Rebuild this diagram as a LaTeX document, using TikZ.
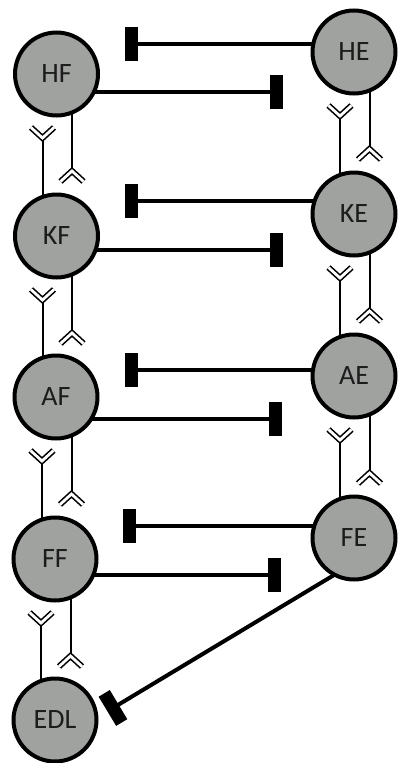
\documentclass[tikz,border=0pt]{standalone}
\usepackage{fontspec}
\setmainfont{Carlito}
\usetikzlibrary{arrows.meta,calc,backgrounds}
\definecolor{cellgray}{RGB}{160,162,160}
\definecolor{ink}{RGB}{28,28,28}
\begin{document}
\begin{tikzpicture}[x=1pt,y=-1pt,
  state/.style={circle,draw=black,line width=4pt,fill=cellgray,minimum size=83pt,inner sep=0pt,
    text=ink,font=\fontsize{28}{30}\selectfont},
  inh/.style={line width=4pt,-{Rectangle[length=13pt,width=34pt]}},
  act/.style={line width=2pt},
  chev/.style={draw=black,line width=1.6pt,double=white,double distance=2.8pt,miter limit=10}
]
\useasboundingbox (0,0) rectangle (397,763);

% states: F column (left) and E column (right)
\node[state] (HF)  at (56.5,74)  {HF};
\node[state] (KF)  at (56.5,236) {KF};
\node[state] (AF)  at (56,397)   {AF};
\node[state] (FF)  at (55,559)   {FF};
\node[state] (EDL) at (55,720)   {EDL};
\node[state] (HE)  at (354,52)   {HE};
\node[state] (KE)  at (354,214)  {KE};
\node[state] (AE)  at (354,376)  {AE};
\node[state] (FE)  at (354,538)  {FE};

% ends of the inhibition bars
\coordinate (i1) at (125,44);
\coordinate (i2) at (125,201);
\coordinate (i3) at (125,370);
\coordinate (i4) at (123,526);
\coordinate (j1) at (283,92);
\coordinate (j2) at (283,250);
\coordinate (j3) at (282,419);
\coordinate (j4) at (281,575);
\coordinate (k)  at (107.4,711.3);

\begin{scope}[on background layer]
  % E inhibits F
  \draw[inh] (HE.center |- i1) -- (i1);
  \draw[inh] (KE.center |- i2) -- (i2);
  \draw[inh] (AE.center |- i3) -- (i3);
  \draw[inh] (FE.center |- i4) -- (i4);
  % F inhibits E
  \draw[inh] (HF.center |- j1) -- (j1);
  \draw[inh] (KF.center |- j2) -- (j2);
  \draw[inh] (AF.center |- j3) -- (j3);
  \draw[inh] (FF.center |- j4) -- (j4);
  % FE inhibits EDL
  \draw[inh] ($(FE)+(0,25)$) -- (k);
\end{scope}

% vertical activation links with open chevrons
\foreach \u/\l in {HF/KF,KF/AF,AF/FF,FF/EDL,HE/KE,KE/AE,AE/FE}{
  \coordinate (up-\u) at ($(\u)+(-14,64)$);
  \coordinate (dn-\u) at ($(\u)+(15.5,97)$);
  \begin{scope}[on background layer]
    \draw[act] (\l.center -| up-\u) -- (up-\u);
    \draw[act] (\u.center -| dn-\u) -- (dn-\u);
  \end{scope}
  \draw[chev] ($(up-\u)+(-11.5,-10.5)$) -- (up-\u) -- ($(up-\u)+(11.5,-10.5)$);
  \draw[chev] ($(dn-\u)+(-11.5,10.5)$) -- (dn-\u) -- ($(dn-\u)+(11.5,10.5)$);
}
\end{tikzpicture}
\end{document}
